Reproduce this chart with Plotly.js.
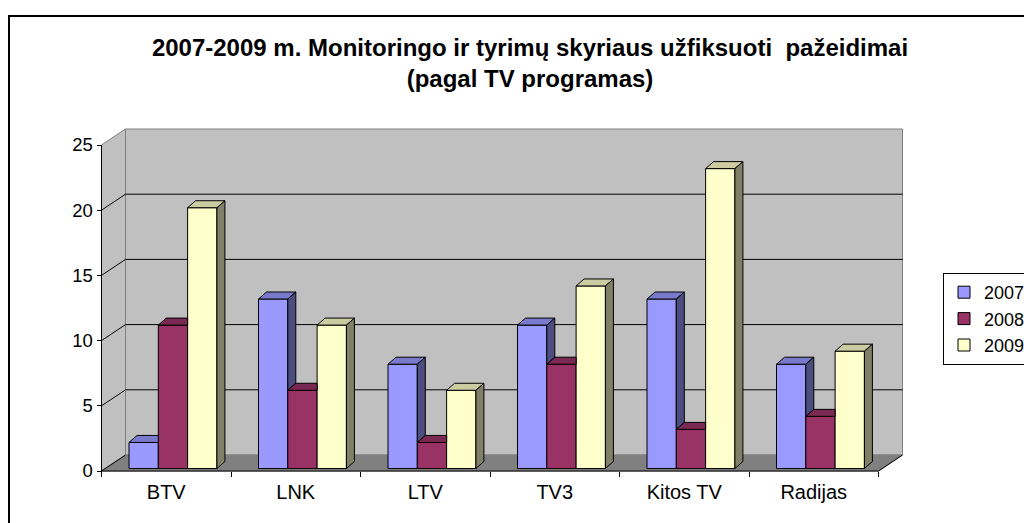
<!DOCTYPE html>
<html>
<head>
<meta charset="utf-8">
<script src="https://cdn.plot.ly/plotly-3.0.1.min.js"></script>
<style>html,body{margin:0;padding:0;background:#fff;}#chart{width:1024px;height:523px;}</style>
</head>
<body>
<div id="chart"></div>
<script>
// ---- data ----
const categories = ['BTV', 'LNK', 'LTV', 'TV3', 'Kitos TV', 'Radijas'];
const seriesNames = ['2007', '2008', '2009'];
const v2007 = [2, 13, 8, 11, 13, 8];
const v2008 = [11, 6, 2, 8, 3, 4];
const v2009 = [20, 11, 6, 14, 23, 9];
const yTicks = [0, 5, 10, 15, 20, 25];

// ---- styling / geometry ----
const FONT = 'Liberation Sans, Arial, sans-serif';
const frontColors = ['#9999FF', '#993366', '#FFFFCC'];
const topColors = ['#7A7ACC', '#7A2952', '#CCCCA3'];
const sideColors = ['#4D4D80', '#4D1A33', '#808066'];

const W = 1024, H = 523;
const L = 95, R = 908, T = 120, B = 476;     // plot area in px
const PX_X = 129.5, PX_Y = 13.04;             // px per category / per unit
const X0PX = 101.5, Y0PX = 471;               // px of (0,0)
const xRange = [(L - X0PX) / PX_X, (R - X0PX) / PX_X];
const yRange = [(Y0PX - B) / PX_Y, (Y0PX - T) / PX_Y];

const DX = 24 / PX_X, DY = 16 / PX_Y;         // wall depth
const B0 = 0.19;                              // bar base lift
const BW = 0.2263, G0 = 0.2124;               // bar width, group start
const BDX = 8 / PX_X, BDY = 7 / PX_Y;         // bar depth

const series = [v2007, v2008, v2009];
const nCat = categories.length;
const yMax = yTicks[yTicks.length - 1];

const traces = [];
// front faces as real bars
series.forEach((vals, k) => {
  traces.push({
    type: 'bar',
    name: seriesNames[k],
    legendgroup: 'g' + k,
    x: vals.map((v, i) => i + G0 + BW * (k + 0.5)),
    y: vals,
    base: B0,
    width: BW,
    marker: { color: frontColors[k], line: { color: '#000', width: 1 } },
    hoverinfo: 'y+name'
  });
});
// tops and sides
series.forEach((vals, k) => {
  const tx = [], ty = [], sx = [], sy = [];
  vals.forEach((v, i) => {
    const l = i + G0 + k * BW, r = l + BW, t = B0 + v;
    const hasNext = k < series.length - 1;
    const next = hasNext ? series[k + 1][i] : -Infinity;
    if (hasNext && next >= v) {
      tx.push(l, r, r, l + BDX, l, null);
      ty.push(t, t, t + BDY, t + BDY, t, null);
    } else {
      tx.push(l, r, r + BDX, l + BDX, l, null);
      ty.push(t, t, t + BDY, t + BDY, t, null);
      const low = hasNext ? B0 + next : B0;
      sx.push(r, r, r + BDX, r + BDX, r, null);
      sy.push(low, t, t + BDY, low + BDY, low, null);
    }
  });
  traces.push({ type: 'scatter', mode: 'lines', x: tx, y: ty, fill: 'toself',
    fillcolor: topColors[k], line: { color: '#000', width: 1 }, showlegend: false, hoverinfo: 'skip' });
  traces.push({ type: 'scatter', mode: 'lines', x: sx, y: sy, fill: 'toself',
    fillcolor: sideColors[k], line: { color: '#000', width: 1 }, showlegend: false, hoverinfo: 'skip' });
});

// walls, floor, gridlines
const shapes = [];
const ln = (x0, y0, x1, y1, c) => ({ type: 'line', xref: 'x', yref: 'y', layer: 'below',
  x0, y0, x1, y1, line: { color: c, width: 1 } });
shapes.push({ type: 'rect', xref: 'x', yref: 'y', layer: 'below', x0: DX, y0: DY, x1: nCat + DX, y1: yMax + DY,
  fillcolor: '#C0C0C0', line: { color: '#808080', width: 1 } });
shapes.push({ type: 'path', xref: 'x', yref: 'y', layer: 'below',
  path: `M0,0 L0,${yMax} L${DX},${yMax + DY} L${DX},${DY} Z`,
  fillcolor: '#C0C0C0', line: { color: '#808080', width: 1 } });
shapes.push({ type: 'path', xref: 'x', yref: 'y', layer: 'below',
  path: `M0,0 L${nCat},0 L${nCat + DX},${DY} L${DX},${DY} Z`,
  fillcolor: '#808080', line: { color: '#808080', width: 1 } });
yTicks.slice(1, -1).forEach(v => {
  shapes.push(ln(0, v, DX, v + DY, '#000'));
  shapes.push(ln(DX, v + DY, nCat + DX, v + DY, '#000'));
});
shapes.push(ln(0, 0, DX, DY, '#000'));
shapes.push(ln(nCat, 0, nCat + DX, DY, '#000'));
shapes.push(ln(0, 0, 0, yMax, '#000'));
shapes.push(ln(0, 0, nCat, 0, '#000'));
// outer chart border
shapes.push({ type: 'rect', xref: 'paper', yref: 'paper', layer: 'above',
  x0: (9 - L) / (R - L), x1: (1040 - L) / (R - L),
  y0: (B - 540) / (B - T), y1: (B - 16) / (B - T),
  line: { color: '#000', width: 2 }, fillcolor: 'rgba(0,0,0,0)' });

const layout = {
  width: W, height: H, autosize: false,
  margin: { l: L, r: W - R, t: T, b: H - B, pad: 0, autoexpand: false },
  paper_bgcolor: '#fff', plot_bgcolor: 'rgba(0,0,0,0)',
  barmode: 'overlay',
  showlegend: true,
  font: { family: FONT, size: 18, color: '#000' },
  title: {
    text: '2007-2009 m. Monitoringo ir tyrimų skyriaus užfiksuoti  pažeidimai<br>(pagal TV programas)',
    font: { family: FONT, size: 24, color: '#000', weight: 'bold' },
    xref: 'container', yref: 'container', x: 530 / W, xanchor: 'center', y: 1 - 56 / H, yanchor: 'top'
  },
  xaxis: {
    range: xRange, anchor: 'free', position: (B - Y0PX) / (B - T),
    tickmode: 'array', tickvals: categories.map((c, i) => i + 0.5), ticktext: categories,
    ticks: 'outside', ticklen: 3, tickcolor: 'rgba(0,0,0,0)',
    minor: { tickmode: 'array', tickvals: categories.map((c, i) => i).concat([nCat]),
      ticks: 'outside', ticklen: 5, tickcolor: '#000', tickwidth: 1, showgrid: false },
    showgrid: false, zeroline: false, showline: false, fixedrange: true,
    tickfont: { family: FONT, size: 20, color: '#000' }
  },
  yaxis: {
    range: yRange, anchor: 'free', position: (X0PX - L) / (R - L),
    tickmode: 'array', tickvals: yTicks,
    ticks: 'outside', ticklen: 5, tickcolor: '#000', tickwidth: 1,
    showgrid: false, zeroline: false, showline: false, fixedrange: true,
    tickfont: { family: FONT, size: 18.5, color: '#000' }
  },
  legend: {
    xref: 'container', yref: 'container', x: 943 / W, y: 1 - 273 / H, xanchor: 'left', yanchor: 'top',
    bordercolor: '#000', borderwidth: 1, bgcolor: '#fff', tracegroupgap: 2,
    font: { family: FONT, size: 18, color: '#000' }, traceorder: 'normal'
  },
  shapes: shapes
};

Plotly.newPlot('chart', traces, layout, { staticPlot: true, displayModeBar: false });
</script>
</body>
</html>
